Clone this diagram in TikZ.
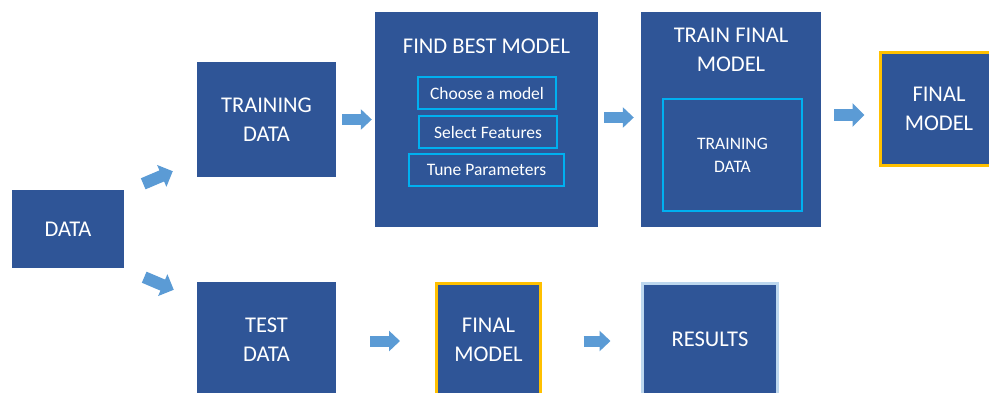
\documentclass[tikz,border=0pt]{standalone}
\usepackage{fontspec}
\setmainfont{Carlito}
\usetikzlibrary{arrows.meta,calc}
\definecolor{boxblue}{HTML}{2F5597}
\definecolor{arrowblue}{HTML}{5B9BD5}
\definecolor{gold}{HTML}{FFC000}
\definecolor{cyanline}{HTML}{00B0F0}
\definecolor{paleblue}{HTML}{BDD7EE}

\begin{document}
\begin{tikzpicture}[x=1pt,y=-1pt,
  box/.style={fill=boxblue, text=white, inner sep=0pt, align=center,
    font=\fontsize{22.5}{29}\selectfont},
  title/.style={text=white, inner sep=0pt, align=center,
    font=\fontsize{22.5}{29}\selectfont},
  inbox/.style={draw=cyanline, line width=1.5pt, text=white, inner sep=0pt,
    align=center, font=\fontsize{17.5}{23}\selectfont},
  goldframe/.style={draw=gold, line width=3pt},
  flow/.style={draw=arrowblue, line width=11pt, line cap=butt,
    -{Triangle[length=11pt,width=20pt]}},
  bigflow/.style={draw=arrowblue, line width=12pt, line cap=butt,
    -{Triangle[length=12pt,width=23pt]}},
]
\useasboundingbox (0,0) rectangle (989,392);
\clip (0,0) rectangle (989,392);

% source data
\node[box, minimum width=112pt, minimum height=78pt] (data) at (68,229) {DATA};

% upper branch
\node[box, minimum width=139pt, minimum height=115pt] (train) at (266.5,119.5) {TRAINING\\DATA};

\node[box, minimum width=223pt, minimum height=215pt] (find) at (486.5,119.5) {};
\node[title] (findtitle) at (486.5,46) {FIND BEST MODEL};
\node[inbox, minimum width=138pt, minimum height=32pt] (choose) at (487,93) {Choose a model};
\node[inbox, minimum width=138pt, minimum height=32pt] (select) at (488,132) {Select Features};
\node[inbox, minimum width=155pt, minimum height=32pt] (tune) at (486.5,170) {Tune Parameters};

\node[box, minimum width=180pt, minimum height=215pt] (tf) at (731,119.5) {};
\node[title] (tftitle) at (731,50) {TRAIN FINAL\\MODEL};
\node[inbox, minimum width=139pt, minimum height=112pt] (tfdata) at (732.5,155) {TRAINING\\DATA};

\node[box, goldframe, minimum width=118pt, minimum height=113pt] (final) at (939,108.5) {FINAL\\MODEL};

% lower branch
\node[box, minimum width=139pt, minimum height=115pt] (test) at (266.5,339.5) {TEST\\DATA};
\node[box, goldframe, minimum width=104pt, minimum height=112pt] (final2) at (488.5,339.5) {FINAL\\MODEL};
\node[box, draw=paleblue, line width=3pt, minimum width=135pt, minimum height=112pt] (results) at (710,339.5) {RESULTS};

% block arrows
\draw[bigflow] ($(data.north east)+(19,-6)$) -- ($(train.south west)+(-24,-6)$);
\draw[bigflow] ($(data.south east)+(20,9)$) -- ($(test.north west)+(-23,8)$);
\draw[flow] ($(train.east)+(6,0)$) -- ($(find.west)+(-3,0)$);
\draw[flow] ($(find.east)+(6,-2)$) -- ($(tf.west)+(-7,-2)$);
\draw[bigflow] ($(tf.east)+(13,-4.5)$) -- ($(final.west)+(-14,6.5)$);
\draw[flow] ($(test.east)+(34,1.5)$) -- ($(final2.west)+(-35,1.5)$);
\draw[flow] ($(final2.east)+(41.5,1.5)$) -- ($(results.west)+(-30.5,1.5)$);
\end{tikzpicture}
\end{document}
